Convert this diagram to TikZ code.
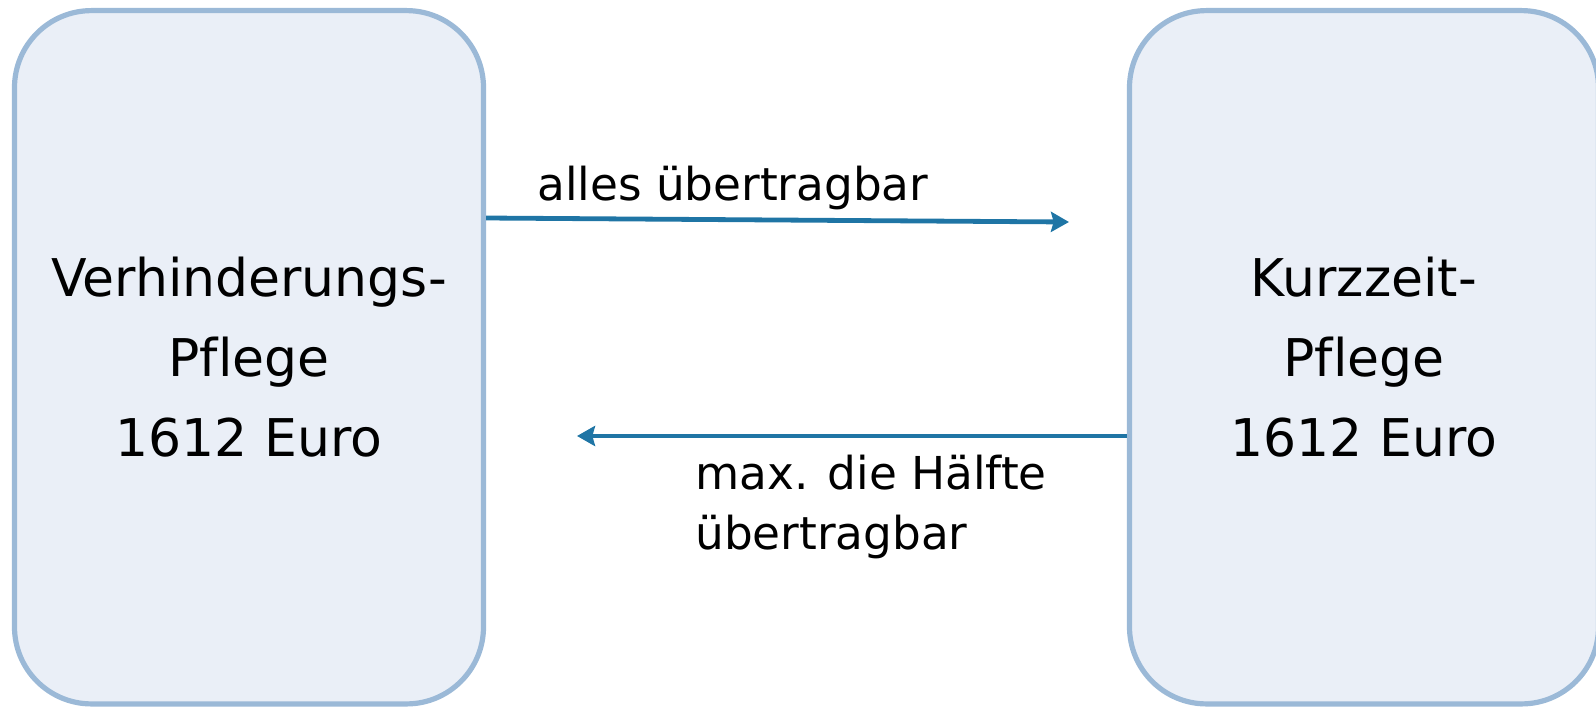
\documentclass[tikz,border=0pt]{standalone}
\usepackage{fontspec}
\setmainfont{DejaVu Sans}[Ligatures=CommonOff]
\usepackage{tikz}
\usetikzlibrary{arrows.meta,positioning}

\definecolor{boxfill}{RGB}{234,239,247}
\definecolor{boxline}{RGB}{155,185,215}
\definecolor{arrowblue}{RGB}{31,117,165}

\begin{document}
\begin{tikzpicture}[x=0.75pt, y=-0.75pt,
    pflegebox/.style={rectangle, rounded corners=57.75pt, draw=boxline, line width=3.9pt, fill=boxfill, align=center, minimum width=351.75pt, minimum height=520pt, font=\fontsize{39}{60}\selectfont},
    lbl/.style={font=\fontsize{34}{45}\selectfont, align=left, inner sep=0pt},
    arrow/.style={-{Stealth[length=13.5pt,width=15pt,inset=2pt]}, line width=3.6pt, draw=arrowblue}]

    \useasboundingbox (0,0) rectangle (1596,708);

    % Verhinderungspflege box
    \node[pflegebox] (vp) at (249, 357.25) {
        Verhinderungs-\\
        Pflege\\
        1612 Euro
    };

    % Kurzzeitpflege box
    \node[pflegebox] (kp) at (1364, 357.25) {
        Kurzzeit-\\
        Pflege\\
        1612 Euro
    };

    % Arrow ends
    \coordinate (toend) at (1069, 222);
    \coordinate (backend) at (577, 436);

    % Arrows
    \draw[arrow] (vp.east |- 0,218) -- (toend);
    \draw[arrow] (kp.west |- backend) -- (backend);

    % Labels
    \node[lbl, anchor=base west] (alles) at (537, 200) {alles übertragbar};
    \node[lbl, anchor=north west] (haelfte) at (695, 455) {max. die Hälfte\\übertragbar};

\end{tikzpicture}
\end{document}
